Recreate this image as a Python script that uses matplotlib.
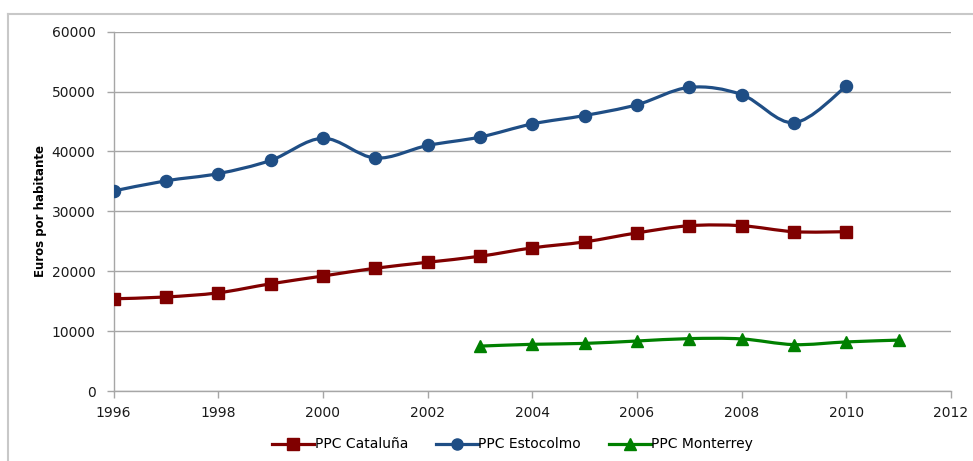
import numpy as np
import matplotlib
matplotlib.use("Agg")
import matplotlib.pyplot as plt
from matplotlib.path import Path
from matplotlib.patches import PathPatch
from matplotlib.lines import Line2D

# GDP per capita (PPP), euros per inhabitant
years_cat = [1996, 1997, 1998, 1999, 2000, 2001, 2002, 2003, 2004, 2005,
             2006, 2007, 2008, 2009, 2010]
ppc_cataluna = [15400, 15700, 16400, 17900, 19200, 20500, 21500, 22500, 23900,
                24900, 26400, 27600, 27600, 26600, 26600]

years_est = [1996, 1997, 1998, 1999, 2000, 2001, 2002, 2003, 2004, 2005,
             2006, 2007, 2008, 2009, 2010]
ppc_estocolmo = [33400, 35100, 36300, 38500, 42200, 38900, 41000, 42400, 44600,
                 46000, 47800, 50700, 49500, 44800, 50900]

years_mty = [2003, 2004, 2005, 2006, 2007, 2008, 2009, 2010, 2011]
ppc_monterrey = [7500, 7800, 7950, 8350, 8750, 8700, 7750, 8200, 8500]

labels = ["PPC Cataluña", "PPC Estocolmo", "PPC Monterrey"]
colors = ["#800000", "#1F4E85", "#008000"]
markers = ["s", "o", "^"]

x_ticks = list(range(1996, 2013, 2))
y_ticks = list(range(0, 60001, 10000))


def smooth_path(xs, ys):
    """Catmull-Rom curve through the points, expressed as cubic Beziers."""
    pts = np.column_stack([xs, ys]).astype(float)
    n = len(pts)
    verts = [pts[0]]
    codes = [Path.MOVETO]
    for i in range(n - 1):
        p0 = pts[i - 1] if i > 0 else pts[i]
        p1 = pts[i]
        p2 = pts[i + 1]
        p3 = pts[i + 2] if i + 2 < n else pts[i + 1]
        c1 = p1 + (p2 - p0) / 6.0
        c2 = p2 - (p3 - p1) / 6.0
        verts += [c1, c2, p2]
        codes += [Path.CURVE4] * 3
    return Path(verts, codes)


fig = plt.figure(figsize=(9.73, 4.61), dpi=100)
ax = fig.add_axes([0.1167, 0.1518, 0.8607, 0.7795])

grid_c = "#A6A6A6"
series = [(years_cat, ppc_cataluna), (years_est, ppc_estocolmo),
          (years_mty, ppc_monterrey)]
for (xs, ys), lab, col, mk in zip(series, labels, colors, markers):
    ax.add_patch(PathPatch(smooth_path(xs, ys), facecolor="none",
                           edgecolor=col, lw=2.3, zorder=3,
                           capstyle="round", joinstyle="round"))
    ax.plot(xs, ys, linestyle="none", marker=mk, color=col,
            markersize=8.7 if mk != "^" else 9.3, zorder=4)

ax.set_xlim(1996, 2012)
ax.set_ylim(0, 60000)
ax.set_xticks(x_ticks)
ax.set_yticks(y_ticks)
ax.yaxis.grid(True, color=grid_c, lw=1.0)
ax.set_axisbelow(True)
for s in ["top", "right"]:
    ax.spines[s].set_visible(False)
for s in ["left", "bottom"]:
    ax.spines[s].set_color(grid_c)
    ax.spines[s].set_linewidth(1.0)
ax.tick_params(axis="both", direction="out", length=5, width=1.0,
               color=grid_c, labelsize=10, labelcolor="#1A1A1A")
ax.tick_params(axis="x", pad=6)
ax.tick_params(axis="y", pad=8)

ax.set_ylabel("Euros por habitante", fontsize=8.5, fontweight="bold",
              color="#000000")
ax.yaxis.set_label_coords(-0.08, 0.5)

handles = [Line2D([], [], color=c, lw=2.3, marker=m, markersize=8)
           for c, m in zip(colors, markers)]
fig.legend(handles, labels, loc="center", bbox_to_anchor=(0.527, 0.036),
           ncol=3, frameon=False, fontsize=10, handlelength=3.0,
           handletextpad=0.05, columnspacing=2.0)

# chart-area border
border_c = "#C8C8C8"
fig.add_artist(Line2D([8 / 973, 1.0], [1 - 14 / 461, 1 - 14 / 461],
                      transform=fig.transFigure, color=border_c, lw=1.5))
fig.add_artist(Line2D([8 / 973, 8 / 973], [0, 1 - 14 / 461],
                      transform=fig.transFigure, color=border_c, lw=1.5))

fig.savefig("out.png", dpi=100)
